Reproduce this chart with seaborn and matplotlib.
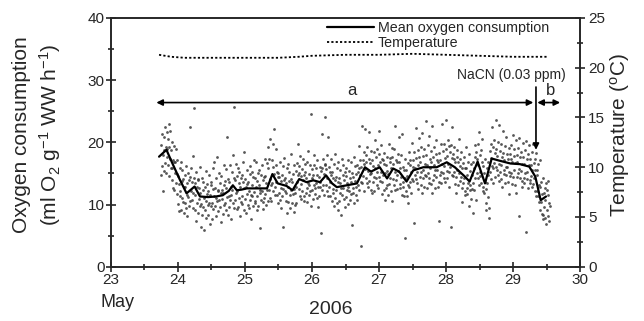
import numpy as np
import pandas as pd
import matplotlib
matplotlib.use('Agg')
import matplotlib.pyplot as plt
from matplotlib.lines import Line2D
from matplotlib.ticker import MultipleLocator
import seaborn as sns

# individual chamber readings (ml O2 g-1 WW h-1), one row per scan, one column per chamber
o2_readings = [
    [14.8, 19.6, 16.2, 21.3, 12.1, 17.9, 18.8, 15.4],
    [20.9, 16.7, 22.4, 19.3, 15.1, 21.7, 17.6, 18.9],
    [16.3, 20.5, 22.9, 14.6, 19.2, 17.4, 21.8, 15.9],
    [18.7, 13.9, 15.8, 20.1, 17.2, 12.6, 16.9, 19.4],
    [12.3, 16.8, 15.1, 13.4, 18.9, 11.7, 14.9, 17.2],
    [10.1, 14.6, 13.3, 8.9, 15.8, 12.2, 11.4, 16.9],
    [9.2, 13.8, 11.1, 15.6, 10.4, 14.1, 8.6, 12.9],
    [14.7, 10.3, 12.8, 9.5, 16.2, 11.6, 13.4, 8.2],
    [11.2, 15.1, 9.7, 13.9, 22.4, 10.6, 14.5, 12.1],
    [15.9, 10.8, 13.6, 11.9, 17.8, 9.4, 14.3, 25.6],
    [9.1, 13.4, 11.5, 15.2, 7.3, 12.8, 10.2, 14.1],
    [13.9, 8.7, 10.9, 12.6, 16.1, 9.8, 11.8, 6.4],
    [10.1, 14.2, 8.3, 12.4, 9.6, 13.7, 11.0, 5.9],
    [12.9, 9.2, 15.4, 10.6, 7.8, 11.7, 13.3, 9.9],
    [8.4, 12.1, 10.3, 14.8, 11.5, 6.9, 13.6, 9.7],
    [13.1, 10.2, 7.6, 12.5, 15.9, 9.3, 11.4, 16.8],
    [9.8, 12.7, 14.3, 8.1, 11.1, 10.5, 17.6, 12.2],
    [12.4, 8.9, 10.7, 15.1, 9.6, 13.5, 7.2, 11.8],
    [14.6, 10.9, 12.3, 8.5, 11.9, 16.4, 9.9, 13.2],
    [10.3, 13.8, 9.1, 12.6, 15.7, 11.2, 20.9, 8.4],
    [14.1, 11.4, 9.6, 13.7, 16.3, 10.8, 12.9, 7.7],
    [11.6, 15.2, 12.4, 17.9, 10.2, 14.3, 9.5, 25.7],
    [13.9, 10.7, 16.5, 11.8, 9.3, 14.6, 12.2, 15.8],
    [9.6, 13.5, 11.1, 15.3, 8.2, 12.8, 14.2, 10.4],
    [14.8, 11.3, 10.1, 13.6, 16.9, 9.2, 12.7, 18.4],
    [10.9, 14.1, 12.8, 8.6, 15.5, 11.7, 13.3, 9.9],
    [13.7, 9.4, 12.1, 16.2, 10.8, 14.9, 11.5, 7.6],
    [11.4, 15.3, 13.2, 9.8, 14.4, 12.0, 17.1, 10.3],
    [14.2, 10.5, 12.9, 16.8, 11.3, 9.1, 13.8, 15.1],
    [9.7, 13.1, 15.6, 11.9, 12.4, 6.2, 14.7, 10.8],
    [12.2, 16.3, 10.4, 13.9, 9.3, 14.5, 11.1, 17.4],
    [14.6, 11.7, 13.5, 9.9, 16.7, 12.3, 10.6, 19.2],
    [15.8, 12.4, 17.3, 11.0, 14.1, 20.6, 13.2, 10.5],
    [17.2, 13.4, 16.1, 12.2, 19.7, 14.9, 22.1, 11.6],
    [12.8, 16.4, 13.7, 18.9, 11.5, 15.3, 14.4, 10.2],
    [15.1, 11.9, 14.4, 10.7, 16.8, 12.6, 13.8, 9.4],
    [11.3, 14.7, 12.5, 16.2, 6.4, 13.9, 17.5, 12.1],
    [14.3, 10.6, 13.5, 11.8, 15.9, 8.7, 12.9, 16.6],
    [10.4, 13.8, 15.2, 11.6, 9.5, 14.1, 12.3, 18.2],
    [13.6, 10.2, 11.7, 14.9, 8.8, 12.5, 16.3, 9.9],
    [11.8, 15.4, 12.9, 10.3, 16.7, 13.6, 14.8, 19.7],
    [16.2, 12.5, 15.1, 11.4, 17.8, 13.3, 14.6, 10.9],
    [12.1, 15.7, 13.9, 17.4, 11.3, 14.8, 10.6, 16.5],
    [15.2, 11.8, 14.3, 12.7, 16.9, 10.4, 13.5, 18.6],
    [11.5, 14.9, 13.1, 16.4, 12.2, 24.6, 9.8, 14.2],
    [15.7, 12.4, 14.8, 10.9, 16.3, 13.2, 17.9, 11.7],
    [12.6, 15.9, 13.4, 11.1, 14.7, 17.2, 12.9, 9.6],
    [14.5, 11.3, 16.1, 12.8, 13.7, 5.4, 15.4, 21.4],
    [12.4, 15.8, 13.1, 17.3, 11.6, 14.9, 16.6, 24.1],
    [16.4, 13.2, 15.7, 12.1, 17.9, 14.3, 11.4, 20.8],
    [12.9, 16.1, 13.6, 15.2, 11.3, 17.4, 14.7, 10.5],
    [15.3, 11.8, 14.2, 12.5, 16.6, 9.7, 13.9, 18.1],
    [11.1, 14.5, 12.3, 15.9, 10.2, 13.7, 9.1, 16.8],
    [14.2, 10.6, 13.4, 11.9, 15.6, 12.7, 8.4, 17.3],
    [11.5, 14.8, 12.6, 16.3, 10.9, 13.9, 15.2, 9.6],
    [14.6, 11.2, 15.9, 12.4, 13.5, 10.1, 17.1, 12.8],
    [12.1, 15.4, 10.8, 14.3, 16.8, 11.7, 13.6, 6.7],
    [15.1, 11.9, 14.5, 12.6, 17.6, 10.3, 13.8, 16.2],
    [11.6, 14.9, 12.8, 16.4, 10.7, 15.3, 13.1, 19.4],
    [15.8, 12.3, 14.7, 17.2, 3.3, 13.6, 16.1, 22.7],
    [13.4, 17.1, 14.6, 16.5, 12.2, 18.4, 15.7, 22.1],
    [17.9, 14.3, 16.8, 13.5, 19.2, 15.4, 12.8, 21.6],
    [13.8, 17.3, 14.9, 16.7, 12.4, 18.6, 15.1, 11.9],
    [17.1, 13.6, 16.2, 14.4, 18.5, 12.1, 15.8, 20.3],
    [14.2, 17.6, 15.3, 13.1, 18.9, 16.4, 12.6, 21.8],
    [18.1, 14.5, 16.9, 13.8, 19.6, 15.2, 17.4, 11.7],
    [13.6, 17.2, 14.8, 16.5, 12.3, 18.3, 15.1, 10.8],
    [16.3, 12.7, 15.4, 13.1, 17.6, 11.5, 14.9, 19.8],
    [13.3, 16.8, 14.2, 17.5, 12.1, 15.9, 19.1, 10.6],
    [17.7, 14.1, 16.5, 13.2, 18.9, 15.3, 12.4, 22.6],
    [13.9, 17.2, 14.7, 16.8, 12.5, 18.1, 15.4, 20.9],
    [16.9, 13.3, 15.8, 12.7, 17.9, 14.4, 11.6, 21.3],
    [12.8, 16.1, 13.6, 15.5, 11.4, 17.3, 14.2, 4.7],
    [15.5, 12.1, 14.6, 11.3, 16.7, 13.2, 10.2, 18.4],
    [12.9, 16.4, 13.7, 17.1, 11.8, 15.3, 14.1, 19.9],
    [17.2, 13.8, 16.1, 7.0, 18.4, 14.7, 15.9, 22.3],
    [14.1, 17.5, 15.2, 13.4, 18.8, 16.3, 12.5, 20.7],
    [17.6, 14.4, 16.8, 13.1, 19.2, 15.3, 11.9, 21.5],
    [14.3, 17.8, 15.5, 18.9, 12.9, 16.6, 14.8, 23.4],
    [17.9, 14.6, 16.3, 12.7, 19.5, 15.1, 13.4, 21.1],
    [14.2, 17.4, 15.8, 18.6, 13.3, 16.9, 11.8, 22.6],
    [17.7, 13.9, 16.4, 14.8, 19.3, 12.6, 15.5, 20.4],
    [14.5, 18.1, 15.6, 17.2, 12.8, 16.9, 13.7, 7.3],
    [18.3, 14.7, 17.1, 15.2, 19.8, 13.4, 16.6, 22.9],
    [15.1, 18.6, 16.2, 19.7, 14.3, 17.5, 13.6, 23.6],
    [18.9, 15.4, 17.8, 14.2, 20.3, 16.6, 19.4, 12.8],
    [15.3, 18.4, 16.1, 19.6, 6.4, 17.5, 14.8, 22.4],
    [18.1, 14.6, 17.3, 15.2, 19.2, 13.3, 16.8, 11.9],
    [14.4, 17.7, 15.6, 18.8, 13.2, 16.9, 15.1, 20.6],
    [17.3, 13.8, 16.2, 14.5, 18.4, 12.7, 15.9, 10.4],
    [13.4, 16.7, 14.3, 17.6, 12.1, 15.8, 11.5, 19.2],
    [15.9, 12.6, 14.8, 11.7, 16.8, 13.4, 9.8, 18.1],
    [12.3, 15.4, 13.1, 16.6, 10.9, 14.7, 12.5, 8.6],
    [16.8, 13.5, 15.9, 12.4, 17.7, 14.3, 19.6, 10.8],
    [18.5, 15.1, 17.4, 14.2, 19.8, 16.3, 21.6, 13.1],
    [14.6, 17.9, 15.3, 18.7, 13.4, 16.8, 20.5, 12.2],
    [16.2, 12.9, 15.1, 11.8, 17.4, 13.6, 10.3, 9.1],
    [12.5, 15.8, 13.4, 16.9, 11.2, 14.8, 9.4, 7.8],
    [18.6, 15.3, 17.5, 14.1, 19.7, 16.2, 22.4, 13.5],
    [15.8, 19.2, 16.7, 20.4, 14.5, 18.3, 23.6, 16.1],
    [18.9, 15.6, 17.8, 14.7, 20.1, 16.5, 13.8, 22.8],
    [15.2, 18.6, 16.4, 19.7, 14.1, 17.6, 12.9, 21.9],
    [18.3, 14.9, 17.2, 15.6, 19.4, 13.5, 16.1, 20.8],
    [14.8, 18.2, 16.0, 17.4, 13.6, 19.1, 15.3, 11.7],
    [18.1, 14.6, 17.3, 15.1, 19.5, 13.3, 16.8, 21.2],
    [14.5, 17.8, 15.6, 18.9, 13.2, 16.7, 20.4, 11.9],
    [17.9, 14.4, 16.8, 15.1, 19.1, 8.1, 15.7, 20.7],
    [14.3, 17.6, 15.4, 18.5, 12.9, 16.6, 13.8, 19.9],
    [17.7, 14.2, 16.5, 13.4, 18.8, 15.1, 5.6, 20.2],
    [14.1, 17.3, 15.3, 18.2, 12.7, 16.4, 19.6, 13.5],
    [17.4, 13.9, 16.3, 14.6, 18.5, 12.8, 15.5, 19.8],
    [13.3, 16.7, 14.2, 17.4, 12.1, 15.6, 18.3, 11.4],
    [15.6, 12.2, 14.7, 11.3, 16.5, 13.1, 10.4, 17.2],
    [9.2, 12.8, 10.4, 13.6, 8.5, 11.7, 7.6, 14.3],
    [8.4, 11.9, 9.6, 12.7, 7.8, 10.8, 6.9, 13.5],
    [9.1, 12.4, 8.2, 11.6, 13.8, 7.4, 10.3, 9.7],
]
scan_start = 23.75   # day of May of the first scan
scan_step = 0.05     # days between scans

# running mean oxygen consumption
mean_day = [23.72, 23.83, 23.92, 24.03, 24.13, 24.25, 24.33, 24.45, 24.57, 24.67,
            24.76, 24.82, 24.88, 24.95, 25.03, 25.18, 25.33, 25.41, 25.49, 25.62,
            25.71, 25.81, 25.92, 26.02, 26.12, 26.21, 26.30, 26.37, 26.52, 26.67,
            26.79, 26.88, 27.01, 27.12, 27.21, 27.30, 27.41, 27.51, 27.66, 27.86,
            28.01, 28.13, 28.28, 28.35, 28.47, 28.58, 28.68, 28.78, 28.96, 29.10,
            29.24, 29.33, 29.41, 29.49]
mean_o2 = [17.7, 18.8, 16.6, 14.0, 11.8, 12.9, 11.3, 11.2, 11.3, 11.5,
           12.2, 13.1, 12.3, 12.4, 12.6, 12.6, 12.6, 14.9, 13.4, 13.0,
           12.3, 14.1, 13.6, 13.9, 13.6, 14.7, 13.4, 12.8, 13.1, 13.4,
           16.0, 15.3, 16.0, 14.2, 15.8, 15.3, 13.7, 15.5, 16.0, 16.0,
           16.8, 16.0, 14.5, 13.7, 16.9, 13.4, 17.4, 17.1, 16.6, 16.5,
           16.1, 14.5, 10.7, 11.3]

# water temperature
temp_day = [23.72, 23.9, 24.1, 24.5, 25.0, 25.5, 25.8, 26.0, 26.5,
            27.0, 27.5, 28.0, 28.5, 29.0, 29.5]
temp_c = [21.3, 21.1, 21.0, 21.0, 21.0, 21.0, 21.1, 21.2, 21.3,
          21.3, 21.4, 21.3, 21.2, 21.1, 21.1]

sns.set_style('ticks')
plt.rcParams['font.family'] = ['Liberation Sans', 'DejaVu Sans']
plt.rcParams['mathtext.fontset'] = 'custom'
plt.rcParams['mathtext.rm'] = 'Liberation Sans'
plt.rcParams['mathtext.it'] = 'Liberation Sans'
plt.rcParams['axes.linewidth'] = 1.2

# long table of the individual readings, chambers read in turn within a scan
n_chambers = len(o2_readings[0])
rows = []
for i, scan in enumerate(o2_readings):
    for j, val in enumerate(scan):
        rows.append({'day': scan_start + i * scan_step + j * scan_step / n_chambers,
                     'o2': val})
points = pd.DataFrame(rows)
mean_df = pd.DataFrame({'day': mean_day, 'o2': mean_o2})
temp_df = pd.DataFrame({'day': temp_day, 'temp': temp_c})

fig = plt.figure(figsize=(6.44, 3.21), dpi=100)
ax = fig.add_axes([0.172, 0.169, 0.729, 0.775])

sns.scatterplot(data=points, x='day', y='o2', ax=ax, s=4, color='#3a3a3a',
                linewidth=0, alpha=0.85, legend=False)
sns.lineplot(data=mean_df, x='day', y='o2', ax=ax, color='black', lw=1.6,
             estimator=None, sort=False)

ax.set_xlim(23, 30)
ax.set_ylim(0, 40)
ax.xaxis.set_major_locator(MultipleLocator(1))
ax.xaxis.set_minor_locator(MultipleLocator(0.5))
ax.yaxis.set_major_locator(MultipleLocator(10))
ax.yaxis.set_minor_locator(MultipleLocator(5))
ax.tick_params(which='major', direction='inout', length=7, width=1.2, labelsize=11, pad=1)
ax.tick_params(which='minor', direction='inout', length=5, width=1.2)
ax.set_xlabel('')
ax.set_ylabel('')

ax2 = ax.twinx()
sns.lineplot(data=temp_df, x='day', y='temp', ax=ax2, color='black', lw=1.3,
             linestyle=(0, (1.2, 1.2)), estimator=None, sort=False)
ax2.set_ylim(0, 25)
ax2.yaxis.set_major_locator(MultipleLocator(5))
ax2.yaxis.set_minor_locator(MultipleLocator(2.5))
ax2.tick_params(which='major', direction='inout', length=7, width=1.2, labelsize=11, pad=2)
ax2.tick_params(which='minor', direction='inout', length=5, width=1.2)
ax2.set_ylabel('')

# treatment periods
arrow_kw = dict(color='black', lw=1.2, mutation_scale=9, shrinkA=0, shrinkB=0)
ax.annotate('', xy=(23.68, 26.4), xytext=(29.30, 26.4),
            arrowprops=dict(arrowstyle='<|-|>', **arrow_kw))
ax.annotate('', xy=(29.36, 26.4), xytext=(29.70, 26.4),
            arrowprops=dict(arrowstyle='<|-|>', **arrow_kw))
ax.annotate('', xy=(29.34, 18.8), xytext=(29.34, 28.9),
            arrowprops=dict(arrowstyle='-|>', **arrow_kw))
ax.text(26.59, 28.4, 'a', fontsize=12, ha='center', va='center')
ax.text(29.55, 28.4, 'b', fontsize=12, ha='center', va='center')
ax.text(29.78, 30.8, 'NaCN (0.03 ppm)', fontsize=10, ha='right', va='center')

handles = [Line2D([], [], color='black', lw=1.6),
           Line2D([], [], color='black', lw=1.3, linestyle=(0, (1.2, 1.2)))]
ax2.legend(handles, ['Mean oxygen consumption', 'Temperature'],
           loc='upper left', bbox_to_anchor=(0.507, 0.935),
           bbox_transform=fig.transFigure, frameon=False, fontsize=10.3,
           handlelength=3.3, handletextpad=0.3, labelspacing=0.1,
           borderaxespad=0, borderpad=0)

fig.text(0.033, 0.58, 'Oxygen consumption', rotation=90, fontsize=15,
         ha='center', va='center')
fig.text(0.077, 0.58, '(ml O$_2$ g$^{-1}$ WW h$^{-1}$)', rotation=90, fontsize=15,
         ha='center', va='center')
fig.text(0.963, 0.58, 'Temperature ($^{\\rm o}$C)', rotation=90, fontsize=15,
         ha='center', va='center')
fig.text(0.183, 0.058, 'May', fontsize=13, ha='center', va='center')
fig.text(0.514, 0.035, '2006', fontsize=14, ha='center', va='center')

fig.savefig('out.png', dpi=100)
